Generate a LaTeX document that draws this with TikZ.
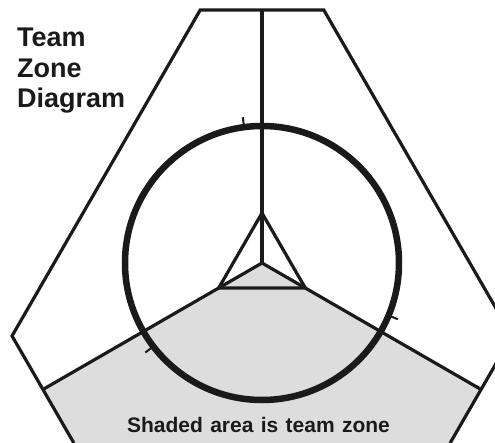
\documentclass[tikz,border=0pt]{standalone}
\usepackage{fontspec}
\setmainfont{Liberation Sans}
\usepackage{tikz}
\usetikzlibrary{calc}
\definecolor{ink}{HTML}{1A1A1A}
\definecolor{zonegray}{HTML}{DDDDDD}

\begin{document}
\begin{tikzpicture}[
    x=1pt, y=1pt,
    outline/.style={draw=ink, line width=3.2pt, line join=miter},
    spoke/.style={draw=ink, line width=3.2pt},
    ring/.style={draw=ink, line width=6.5pt},
    tickmark/.style={draw=ink, line width=2pt},
    zone/.style={fill=zonegray, draw=none},
    title/.style={font=\bfseries\fontsize{27}{30.5}\selectfont, align=left,
                  inner sep=0pt, text=ink},
    caption/.style={font=\bfseries\fontsize{21}{24}\selectfont,
                    inner sep=0pt, text=ink}
]
\useasboundingbox (-262,-179) rectangle (233,263);
\clip (-262,-179) rectangle (233,263);

% ── Key points ────────────────────────────────────────────────────────────
\coordinate (ctr) at (0,0);
\coordinate (o1) at (76.27:260.4);
\coordinate (o2) at (103.73:260.4);
\coordinate (o3) at (196.27:260.4);
\coordinate (o4) at (223.73:260.4);
\coordinate (o5) at (316.27:260.4);
\coordinate (o6) at (343.73:260.4);
\coordinate (mtop) at (90:253);
\coordinate (mleft) at (210:253);
\coordinate (mright) at (330:253);
\coordinate (ttop) at (90:50);
\coordinate (tleft) at (210:50);
\coordinate (tright) at (330:50);

% ── Team zone (shaded) ────────────────────────────────────────────────────
\fill[zone] (ctr) -- (mleft) -- (o4) -- ($(o4)+(0,-5)$) -- ($(o5)+(0,-5)$)
            -- (o5) -- (mright) -- cycle;

% ── Outer boundary (bottom edge lies on the frame) ────────────────────────
\draw[outline] (o5) -- (o6) -- (o1) -- (o2) -- (o3) -- (o4);

% ── Spokes ────────────────────────────────────────────────────────────────
\draw[spoke] (ctr) -- (mtop);
\draw[spoke] (ctr) -- (mleft);
\draw[spoke] (ctr) -- (mright);

% ── Inner triangle ────────────────────────────────────────────────────────
\draw[outline] (ttop) -- (tleft) -- (tright) -- cycle;

% ── Circle and ticks ──────────────────────────────────────────────────────
\draw[ring] (ctr) circle[radius=137];
\foreach \a in {97.5,217.5,337.5}
  \draw[tickmark] (\a:137) -- (\a:147);

% ── Labels ────────────────────────────────────────────────────────────────
\node[title, anchor=north west] (heading) at (-245,235) {Team\\Zone\\Diagram};
\node[caption, anchor=base] (note) at (-3.5,-169)
     {Shaded\hspace{0.35em}area\hspace{0.35em}is\hspace{0.35em}team\hspace{0.35em}zone};

\end{tikzpicture}
\end{document}
